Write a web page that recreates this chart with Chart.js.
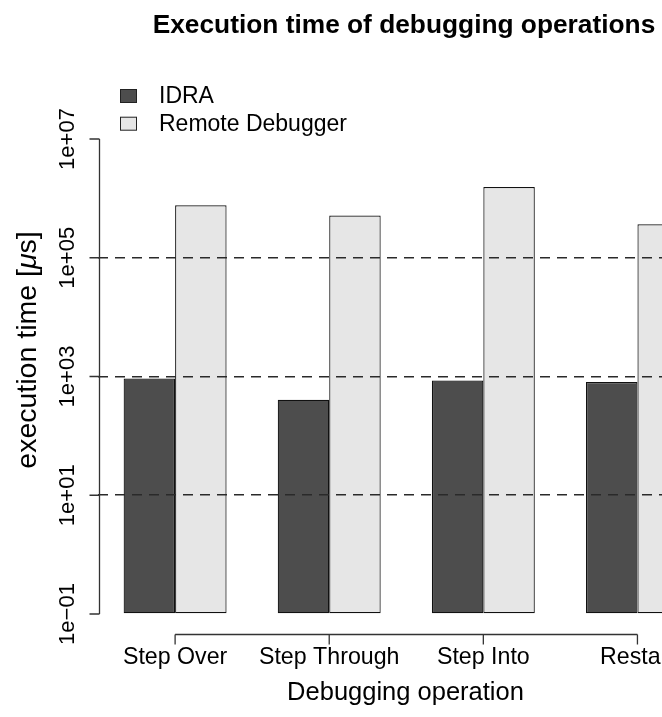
<!DOCTYPE html>
<html>
<head>
<meta charset="utf-8">
<title>Execution time of debugging operations</title>
<script src="https://cdn.jsdelivr.net/npm/chart.js@4/dist/chart.umd.min.js"></script>
<style>
  html, body { margin: 0; padding: 0; background: #fff; overflow: hidden; }
  #wrap { width: 662px; height: 717px; overflow: hidden; }
</style>
</head>
<body>
<div id="wrap"><canvas id="bars" width="740" height="717"></canvas></div>
<script>
// values (microseconds)
var categories = ['Step Over', 'Step Through', 'Step Into', 'Restart'];
var idraTimes = [925, 405, 857, 805];
var remoteTimes = [766000, 514000, 1556000, 366000];
var yTickValues = [1e-1, 1e1, 1e3, 1e5, 1e7];
var yTickLabels = ['1e\u221201', '1e+01', '1e+03', '1e+05', '1e+07'];
var dashedAt = [1e1, 1e3, 1e5];

var FONT = '"Liberation Sans", Arial, Helvetica, sans-serif';

// R style axes, titles and legend, placed with the chart's scales
var rDecorations = {
    id: 'rDecorations',
    afterDraw: function(chart) {
        var ctx = chart.ctx;
        var area = chart.chartArea;
        var x = chart.scales.x;
        var y = chart.scales.y;
        ctx.save();
        ctx.strokeStyle = '#333';
        ctx.lineWidth = 1.3;
        ctx.fillStyle = '#000';

        // y axis, only between first and last tick
        var ax = 99.5;
        ctx.beginPath();
        ctx.moveTo(ax, y.getPixelForValue(yTickValues[0]));
        ctx.lineTo(ax, y.getPixelForValue(yTickValues[yTickValues.length - 1]));
        yTickValues.forEach(function(v) {
            var p = y.getPixelForValue(v);
            ctx.moveTo(ax, p);
            ctx.lineTo(ax - 10, p);
        });
        ctx.stroke();

        ctx.font = '22px ' + FONT;
        ctx.textAlign = 'center';
        ctx.textBaseline = 'alphabetic';
        yTickValues.forEach(function(v, i) {
            ctx.save();
            ctx.translate(ax - 26, y.getPixelForValue(v));
            ctx.rotate(-Math.PI / 2);
            ctx.fillText(yTickLabels[i], 0, 0);
            ctx.restore();
        });

        // x axis from first to last category
        var bx = Math.round(area.bottom) + 0.5;
        ctx.beginPath();
        ctx.moveTo(x.getPixelForValue(0), bx);
        ctx.lineTo(x.getPixelForValue(categories.length - 1), bx);
        categories.forEach(function(c, i) {
            var p = x.getPixelForValue(i);
            ctx.moveTo(p, bx);
            ctx.lineTo(p, bx + 10);
        });
        ctx.stroke();

        // axis titles
        ctx.font = '25.5px ' + FONT;
        ctx.fillText('Debugging operation', 405.5, 700);

        ctx.save();
        ctx.translate(36, 350);
        ctx.rotate(-Math.PI / 2);
        var part1 = 'execution time [';
        var part3 = 's]';
        ctx.font = '28.5px ' + FONT;
        var w1 = ctx.measureText(part1).width;
        var w3 = ctx.measureText(part3).width;
        ctx.font = 'italic 28.5px ' + FONT;
        var w2 = ctx.measureText('\u03bc').width;
        var sx = -(w1 + w2 + w3) / 2;
        ctx.textAlign = 'left';
        ctx.font = '28.5px ' + FONT;
        ctx.fillText(part1, sx, 0);
        ctx.font = 'italic 28.5px ' + FONT;
        ctx.fillText('\u03bc', sx + w1, 0);
        ctx.font = '28.5px ' + FONT;
        ctx.fillText(part3, sx + w1 + w2, 0);
        ctx.restore();

        // main title
        ctx.textAlign = 'center';
        ctx.font = 'bold 26.3px ' + FONT;
        ctx.fillText('Execution time of debugging operations', 404, 33);

        // legend
        ctx.textAlign = 'left';
        ctx.font = '23px ' + FONT;
        chart.data.datasets.forEach(function(ds, i) {
            var top = 89 + i * 27.7;
            ctx.fillStyle = ds.backgroundColor;
            ctx.fillRect(120.5, top + 0.5, 16, 13);
            ctx.strokeStyle = '#222';
            ctx.lineWidth = 1;
            ctx.strokeRect(120.5, top + 0.5, 16, 13);
            ctx.fillStyle = '#000';
            ctx.fillText(ds.label, 159, top + 14);
        });
        ctx.restore();
    }
};

var ctx = document.getElementById('bars').getContext('2d');
var chart = new Chart(ctx, {
    type: 'bar',
    data: {
        labels: categories,
        datasets: [{
            label: 'IDRA',
            data: idraTimes,
            backgroundColor: '#4d4d4d',
            borderColor: '#111',
            borderWidth: 1.2,
            borderSkipped: false,
            base: 0.1
        }, {
            label: 'Remote Debugger',
            data: remoteTimes,
            backgroundColor: '#e6e6e6',
            borderColor: '#111',
            borderWidth: 1.2,
            borderSkipped: false,
            base: 0.1
        }]
    },
    options: {
        responsive: false,
        animation: false,
        layout: { padding: { left: 98.05, right: 25.5, top: 89, bottom: 43 } },
        datasets: { bar: { categoryPercentage: 0.668, barPercentage: 1 } },
        plugins: {
            legend: { display: false },
            title: { display: false },
            tooltip: { enabled: false }
        },
        scales: {
            x: {
                offset: true,
                grid: { display: false, drawTicks: false },
                border: { display: false },
                ticks: {
                    color: '#000',
                    font: { family: FONT, size: 23.2 },
                    padding: 9.5,
                    autoSkip: false,
                    maxRotation: 0
                },
                afterFit: function(scale) { scale.height = 40; }
            },
            y: {
                type: 'logarithmic',
                min: Math.pow(10, -1.337),
                max: Math.pow(10, 7.842),
                afterBuildTicks: function(scale) {
                    scale.ticks = yTickValues.map(function(v) { return { value: v }; });
                },
                afterFit: function(scale) { scale.width = 0; },
                ticks: { display: false },
                border: { display: false, dash: [10, 7] },
                grid: {
                    z: 1,
                    drawTicks: false,
                    lineWidth: 1.5,
                    color: function(c) {
                        return c.tick && dashedAt.indexOf(c.tick.value) >= 0 ? '#2a2a2a' : 'rgba(0,0,0,0)';
                    }
                }
            }
        }
    },
    plugins: [rDecorations]
});
</script>
</body>
</html>
